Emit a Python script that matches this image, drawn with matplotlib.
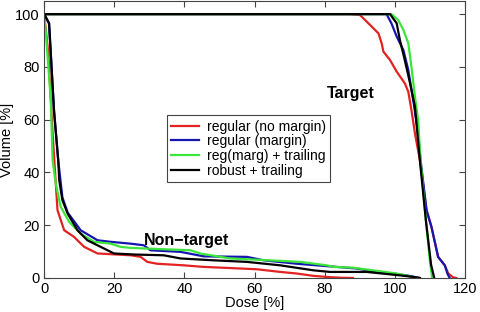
import matplotlib.pyplot as plt

plt.rcParams['font.family'] = ['Liberation Sans', 'DejaVu Sans']

labels = ['regular (no margin)', 'regular (margin)', 'reg(marg) + trailing', 'robust + trailing']
colors = ['#e32222', '#1515b0', '#3ae63a', '#000000']

# target DVHs
tgt_dose = [
    [0, 87.2, 90.0, 91.0, 92.9, 95.3, 96.2, 96.7, 98.6, 100.5, 102.8, 103.8, 104.7, 105.7, 107.1, 109.0, 110.4, 112.3, 114.2, 115.2, 116.5, 117.5],
    [0, 97.6, 99.0, 100.5, 102.4, 103.8, 105.2, 106.6, 107.3, 109.0, 110.4, 112.3, 114.2, 115.0, 115.6],
    [0, 99.0, 100.9, 102.4, 103.8, 104.7, 105.7, 106.6, 107.3, 108.8, 110.0, 110.6],
    [0, 98.6, 100.5, 101.4, 102.8, 104.3, 105.7, 107.1, 108.8, 110.3, 111.2],
]
tgt_vol = [
    [100, 100, 99.7, 98.4, 95.9, 92.7, 89.0, 85.8, 82.6, 78.2, 73.8, 70.6, 63.6, 54.8, 44.7, 25.7, 19.4, 8.0, 4.8, 1.7, 0.3, 0],
    [100, 100, 96.5, 91.5, 86.4, 78.8, 67.4, 54.8, 44.7, 25.7, 19.4, 8.0, 4.8, 1.5, 0],
    [100, 100, 97.8, 94.0, 89.0, 80.0, 68.7, 59.8, 44.7, 22.0, 6.0, 0],
    [100, 100, 96.5, 90.2, 82.6, 73.8, 64.9, 44.7, 22.0, 5.0, 0],
]

# non-target DVHs
nt_dose = [
    [0, 1.2, 2.4, 3.8, 5.7, 8.5, 11.4, 15.2, 24.7, 27.5, 29.4, 32.2, 39.8, 45.5, 55.9, 60.7, 67.3, 72.0, 76.8, 81.5, 84.4, 88.0],
    [0, 1.4, 2.8, 4.0, 5.2, 6.7, 10.4, 15.2, 19.0, 24.7, 28.4, 30.3, 38.9, 45.5, 57.8, 62.6, 72.0, 79.6, 89.1, 94.8, 103.3, 107.1],
    [0, 0.5, 1.9, 2.4, 3.3, 4.7, 7.1, 10.4, 14.2, 19.0, 21.8, 24.7, 30.3, 41.7, 44.5, 53.0, 67.3, 73.0, 80.6, 82.5, 88.1, 94.8, 100.5, 104.3, 105.7],
    [0, 1.4, 2.8, 4.0, 4.3, 5.2, 6.7, 9.5, 12.3, 16.1, 19.9, 25.6, 34.1, 38.9, 48.3, 57.8, 67.3, 76.8, 81.5, 91.9, 101.4, 105.2, 107.1],
]
nt_vol = [
    [100, 85, 55, 25.7, 18.1, 15.6, 11.8, 9.3, 8.6, 8.0, 6.1, 5.4, 4.8, 4.2, 3.6, 3.3, 2.3, 1.7, 0.8, 0.3, 0.1, 0],
    [100, 96.5, 63.6, 44.7, 30.5, 24.8, 18.1, 14.3, 13.7, 13.0, 12.4, 10.5, 9.9, 8.2, 8.0, 6.7, 5.4, 4.6, 3.6, 2.3, 1.0, 0],
    [100, 92.7, 67.4, 44.7, 35.8, 27.0, 21.3, 16.8, 13.7, 13.0, 11.8, 11.4, 11.1, 10.5, 9.3, 7.4, 6.5, 6.1, 4.8, 4.2, 3.9, 2.7, 1.7, 0.6, 0],
    [100, 96.5, 63.6, 44.7, 37.0, 29.5, 24.4, 18.1, 14.3, 11.8, 9.3, 8.9, 8.6, 7.4, 6.7, 6.1, 4.8, 2.9, 2.3, 2.3, 1.0, 0.4, 0],
]

fig = plt.figure(figsize=(4.8, 3.12), dpi=100)
ax = fig.add_axes([0.092, 0.109, 0.877, 0.888])

for i in range(4):
    ax.plot(tgt_dose[i], tgt_vol[i], color=colors[i], lw=1.6, label=labels[i])
    ax.plot(nt_dose[i], nt_vol[i], color=colors[i], lw=1.6)

ax.set_xlim(0, 120)
ax.set_ylim(0, 105)
ax.set_xticks(range(0, 121, 20))
ax.set_yticks(range(0, 101, 20))
ax.tick_params(direction='in', top=True, right=True, length=4, labelsize=10.5, pad=3,
               colors='#444444', labelcolor='black')
for s in ax.spines.values():
    s.set_color('#444444')
ax.set_xlabel('Dose [%]', fontsize=10.5, labelpad=0)
ax.set_ylabel('Volume [%]', fontsize=10.5, labelpad=1)

ax.text(87.3, 70, 'Target', fontsize=11.5, fontweight='bold', ha='center', va='center')
ax.text(40.6, 14.3, 'Non\u2212target', fontsize=11.5, fontweight='bold', ha='center', va='center')

leg = ax.legend(loc='center', bbox_to_anchor=(0.485, 0.467), fontsize=10, frameon=True, fancybox=False,
                edgecolor='#444444', framealpha=1, handlelength=2.0, borderpad=0.3,
                labelspacing=0.05, handletextpad=0.6, borderaxespad=0)
leg.get_frame().set_linewidth(0.8)

plt.savefig('out.png', dpi=100)
